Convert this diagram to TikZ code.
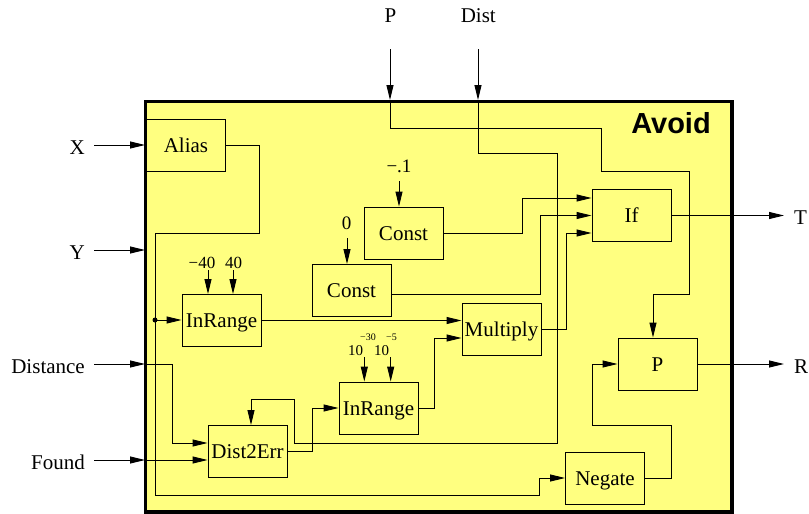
\documentclass[tikz,border=0pt]{standalone}
\usepackage{fontspec}
\setmainfont{Liberation Serif}
\newfontfamily\hvb{Liberation Sans}
\usetikzlibrary{arrows.meta}
\definecolor{bg}{RGB}{255,255,128}
\begin{document}
\begin{tikzpicture}[x=1pt,y=-1pt,
  blk/.style={draw=black,line width=0.9pt,fill=bg,minimum width=79pt,minimum height=52pt,inner sep=0pt,text height=14pt,text depth=0pt,font=\fontsize{21}{25}\selectfont},
  wire/.style={line width=0.9pt},
  arr/.style={wire,-{Triangle[length=15pt,width=7pt]}},
  lbl/.style={inner sep=0pt,font=\fontsize{21}{25}\selectfont},
  prm/.style={inner sep=0pt,font=\fontsize{19}{22}\selectfont},
  prs/.style={inner sep=0pt,font=\fontsize{17}{20}\selectfont},
  pre/.style={inner sep=0pt,font=\fontsize{15}{18}\selectfont},
]
\useasboundingbox (0,0) rectangle (809,514);
\fill[bg] (145.7,101.7) rectangle (732,512);
\node[font=\hvb\bfseries\fontsize{29}{32}\selectfont, inner sep=0pt] (title) at (671,123) {Avoid};

% blocks
\node[blk] (alias) at (186,145) {Alias};
\node[blk] (c1) at (403.5,233) {Const};
\node[blk] (c0) at (351.5,290.5) {Const};
\node[blk] (ir1) at (221.5,320.5) {InRange};
\node[blk] (ir2) at (378.5,408) {InRange};
\node[blk] (d2e) at (247.5,451.5) {Dist2Err};
\node[blk] (mul) at (501.5,329.5) {Multiply};
\node[blk] (if) at (631.5,215.5) {If};
\node[blk] (pb) at (657.5,364) {P};
\node[blk] (neg) at (605,478) {Negate};

% outside labels
\node[lbl,anchor=base east] (lX) at (85,154) {X};
\node[lbl,anchor=base east] (lY) at (85,259) {Y};
\node[lbl,anchor=base east] (lDist) at (85,373) {Distance};
\node[lbl,anchor=base east] (lF) at (85,469) {Found};
\node[lbl,anchor=base] (lP) at (390.5,23) {P};
\node[lbl,anchor=base] (lD) at (478.3,23) {Dist};
\node[lbl,anchor=base west] (lT) at (794,224) {T};
\node[lbl,anchor=base west] (lR) at (794,373) {R};

% parameter labels
\node[prm,anchor=base] (pm1) at (399,172) {−.1};
\node[prm,anchor=base] (p0) at (346.7,229) {0};
\node[prs,anchor=base] (pm40) at (202,268) {−40};
\node[prs,anchor=base] (p40) at (233.5,268) {40};
\node[pre,anchor=base west] (pe30) at (348,355) {10\hspace{-3pt}\raisebox{15pt}{\fontsize{10}{12}\selectfont −30}};
\node[pre,anchor=base west] (pe5) at (374,355) {10\hspace{-3pt}\raisebox{15pt}{\fontsize{10}{12}\selectfont −5}};

% input arrows at the frame
\coordinate (sX) at (94,145);  \coordinate (eX) at (145,145);
\coordinate (sY) at (94,250);  \coordinate (eY) at (145,250);
\coordinate (sDi) at (94,364); \coordinate (eDi) at (145,364);
\coordinate (sF) at (94,460);  \coordinate (eF) at (145,460);
\coordinate (sP) at (390,49);  \coordinate (eP) at (390,100);
\coordinate (sD) at (478,49);  \coordinate (eD) at (478,100);
\draw[arr] (sX) -- (eX);
\draw[arr] (sY) -- (eY);
\draw[arr] (sDi) -- (eDi);
\draw[arr] (sF) -- (eF);
\draw[arr] (sP) -- (eP);
\draw[arr] (sD) -- (eD);

% internal wires
\coordinate (br) at (155,320);
\draw[arr] (alias.east) -- (259,145) -- (259,233) -- (155,233) -- (155,495) -- (539,495) -- (539,478) -- (neg.west);
\fill (br) circle[radius=2.5pt];
\draw[arr] (br) -- (ir1.west |- br);

\draw[arr] (eDi) -- (172,364) -- (172,443) -- ([yshift=8.5pt]d2e.west);
\draw[arr] (eF) -- ([yshift=-8.5pt]d2e.west);

\draw[arr] (eP) -- (390,128) -- (601,128) -- (601,171) -- (689,171) -- (689,294) -- (653,294) -- ([xshift=-4.5pt]pb.north);
\draw[arr] (eD) -- (478,153) -- (557,153) -- (557,443) -- (294,443) -- (294,399) -- (251,399) -- ([xshift=3.5pt]d2e.north);

\draw[arr] (399,181) -- ([xshift=-4.5pt]c1.north);
\draw[arr] (347,238) -- ([xshift=-4.5pt]c0.north);
\draw[arr] (208,270) -- ([xshift=-13.5pt]ir1.north);
\draw[arr] (233,270) -- ([xshift=11.5pt]ir1.north);
\draw[arr] (364.3,357) -- ([xshift=-14.2pt]ir2.north);
\draw[arr] (390.7,357) -- ([xshift=12.2pt]ir2.north);

\draw[arr] (c1.east) -- (522,233) -- (522,198) -- ([yshift=17.5pt]if.west);
\draw[arr] ([yshift=-3.5pt]c0.east) -- (540,294) -- (540,215.5) -- (if.west);
\draw[arr] (mul.east) -- (566,329.5) -- (566,233) -- ([yshift=-17.5pt]if.west);
\draw[arr] (ir1.east) -- ([yshift=9pt]mul.west);
\draw[arr] (ir2.east) -- (434,408) -- (434,338) -- ([yshift=-8.5pt]mul.west);
\draw[arr] (d2e.east) -- (312,451.5) -- (312,408) -- (ir2.west);
\draw[arr] (neg.east) -- (671,478) -- (671,425) -- (592,425) -- (592,364) -- (pb.west);
\draw[arr] (if.east) -- (784,215.5);
\draw[arr] (pb.east) -- (784,364);

% frame
\draw[line width=3.5pt] (145.7,101.7) rectangle (732,512);
\end{tikzpicture}
\end{document}
